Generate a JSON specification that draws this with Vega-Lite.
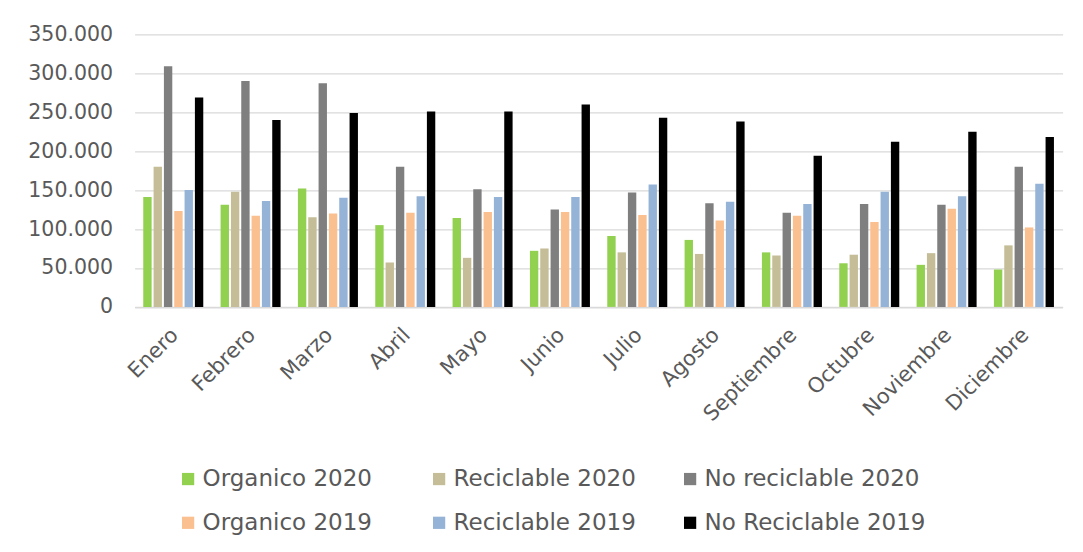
{
  "$schema": "https://vega.github.io/schema/vega-lite/v6.json",
  "autosize": "none",
  "width": 928,
  "height": 272.6,
  "padding": {"left": 134.6, "top": 34.3, "right": 20.4, "bottom": 245.1},
  "background": "white",
  "config": {
    "font": "DejaVu Sans",
    "view": {"stroke": null},
    "locale": {"number": {"decimal": ",", "thousands": ".", "grouping": [3], "currency": ["", " €"]}}
  },
  "data": {
    "values": [
      {"mes": "Enero", "serie": "Organico 2020", "valor": 141000},
      {"mes": "Enero", "serie": "Reciclable 2020", "valor": 180000},
      {"mes": "Enero", "serie": "No reciclable 2020", "valor": 309000},
      {"mes": "Enero", "serie": "Organico 2019", "valor": 123000},
      {"mes": "Enero", "serie": "Reciclable 2019", "valor": 150000},
      {"mes": "Enero", "serie": "No Reciclable 2019", "valor": 269000},
      {"mes": "Febrero", "serie": "Organico 2020", "valor": 131000},
      {"mes": "Febrero", "serie": "Reciclable 2020", "valor": 148000},
      {"mes": "Febrero", "serie": "No reciclable 2020", "valor": 290000},
      {"mes": "Febrero", "serie": "Organico 2019", "valor": 117000},
      {"mes": "Febrero", "serie": "Reciclable 2019", "valor": 136000},
      {"mes": "Febrero", "serie": "No Reciclable 2019", "valor": 240000},
      {"mes": "Marzo", "serie": "Organico 2020", "valor": 152000},
      {"mes": "Marzo", "serie": "Reciclable 2020", "valor": 115000},
      {"mes": "Marzo", "serie": "No reciclable 2020", "valor": 287000},
      {"mes": "Marzo", "serie": "Organico 2019", "valor": 120000},
      {"mes": "Marzo", "serie": "Reciclable 2019", "valor": 140000},
      {"mes": "Marzo", "serie": "No Reciclable 2019", "valor": 249000},
      {"mes": "Abril", "serie": "Organico 2020", "valor": 105000},
      {"mes": "Abril", "serie": "Reciclable 2020", "valor": 57000},
      {"mes": "Abril", "serie": "No reciclable 2020", "valor": 180000},
      {"mes": "Abril", "serie": "Organico 2019", "valor": 121000},
      {"mes": "Abril", "serie": "Reciclable 2019", "valor": 142000},
      {"mes": "Abril", "serie": "No Reciclable 2019", "valor": 251000},
      {"mes": "Mayo", "serie": "Organico 2020", "valor": 114000},
      {"mes": "Mayo", "serie": "Reciclable 2020", "valor": 63000},
      {"mes": "Mayo", "serie": "No reciclable 2020", "valor": 151000},
      {"mes": "Mayo", "serie": "Organico 2019", "valor": 122000},
      {"mes": "Mayo", "serie": "Reciclable 2019", "valor": 141000},
      {"mes": "Mayo", "serie": "No Reciclable 2019", "valor": 251000},
      {"mes": "Junio", "serie": "Organico 2020", "valor": 72000},
      {"mes": "Junio", "serie": "Reciclable 2020", "valor": 75000},
      {"mes": "Junio", "serie": "No reciclable 2020", "valor": 125000},
      {"mes": "Junio", "serie": "Organico 2019", "valor": 122000},
      {"mes": "Junio", "serie": "Reciclable 2019", "valor": 141000},
      {"mes": "Junio", "serie": "No Reciclable 2019", "valor": 260000},
      {"mes": "Julio", "serie": "Organico 2020", "valor": 91000},
      {"mes": "Julio", "serie": "Reciclable 2020", "valor": 70000},
      {"mes": "Julio", "serie": "No reciclable 2020", "valor": 147000},
      {"mes": "Julio", "serie": "Organico 2019", "valor": 118000},
      {"mes": "Julio", "serie": "Reciclable 2019", "valor": 157000},
      {"mes": "Julio", "serie": "No Reciclable 2019", "valor": 243000},
      {"mes": "Agosto", "serie": "Organico 2020", "valor": 86000},
      {"mes": "Agosto", "serie": "Reciclable 2020", "valor": 68000},
      {"mes": "Agosto", "serie": "No reciclable 2020", "valor": 133000},
      {"mes": "Agosto", "serie": "Organico 2019", "valor": 111000},
      {"mes": "Agosto", "serie": "Reciclable 2019", "valor": 135000},
      {"mes": "Agosto", "serie": "No Reciclable 2019", "valor": 238000},
      {"mes": "Septiembre", "serie": "Organico 2020", "valor": 70000},
      {"mes": "Septiembre", "serie": "Reciclable 2020", "valor": 66000},
      {"mes": "Septiembre", "serie": "No reciclable 2020", "valor": 121000},
      {"mes": "Septiembre", "serie": "Organico 2019", "valor": 117000},
      {"mes": "Septiembre", "serie": "Reciclable 2019", "valor": 132000},
      {"mes": "Septiembre", "serie": "No Reciclable 2019", "valor": 194000},
      {"mes": "Octubre", "serie": "Organico 2020", "valor": 56000},
      {"mes": "Octubre", "serie": "Reciclable 2020", "valor": 67000},
      {"mes": "Octubre", "serie": "No reciclable 2020", "valor": 132000},
      {"mes": "Octubre", "serie": "Organico 2019", "valor": 109000},
      {"mes": "Octubre", "serie": "Reciclable 2019", "valor": 148000},
      {"mes": "Octubre", "serie": "No Reciclable 2019", "valor": 212000},
      {"mes": "Noviembre", "serie": "Organico 2020", "valor": 54000},
      {"mes": "Noviembre", "serie": "Reciclable 2020", "valor": 69000},
      {"mes": "Noviembre", "serie": "No reciclable 2020", "valor": 131000},
      {"mes": "Noviembre", "serie": "Organico 2019", "valor": 126000},
      {"mes": "Noviembre", "serie": "Reciclable 2019", "valor": 142000},
      {"mes": "Noviembre", "serie": "No Reciclable 2019", "valor": 225000},
      {"mes": "Diciembre", "serie": "Organico 2020", "valor": 48000},
      {"mes": "Diciembre", "serie": "Reciclable 2020", "valor": 79000},
      {"mes": "Diciembre", "serie": "No reciclable 2020", "valor": 180000},
      {"mes": "Diciembre", "serie": "Organico 2019", "valor": 102000},
      {"mes": "Diciembre", "serie": "Reciclable 2019", "valor": 158000},
      {"mes": "Diciembre", "serie": "No Reciclable 2019", "valor": 218000}
    ]
  },
  "mark": {"type": "bar"},
  "encoding": {
    "x": {
      "field": "mes",
      "type": "nominal",
      "sort": ["Enero", "Febrero", "Marzo", "Abril", "Mayo", "Junio", "Julio", "Agosto", "Septiembre", "Octubre", "Noviembre", "Diciembre"],
      "scale": {"paddingInner": 0.224, "paddingOuter": 0.112},
      "axis": {
        "title": null,
        "ticks": false,
        "domainColor": "#d9d9d9",
        "domainWidth": 1.3,
        "labelAngle": -45,
        "labelAlign": "right",
        "labelBaseline": "top",
        "labelOffset": -6,
        "labelPadding": 17,
        "labelFont": "DejaVu Sans",
        "labelFontSize": 21,
        "labelColor": "#595959"
      }
    },
    "xOffset": {
      "field": "serie",
      "type": "nominal",
      "sort": ["Organico 2020", "Reciclable 2020", "No reciclable 2020", "Organico 2019", "Reciclable 2019", "No Reciclable 2019"],
      "scale": {"paddingInner": 0.19, "paddingOuter": 0}
    },
    "y": {
      "field": "valor",
      "type": "quantitative",
      "scale": {"domain": [0, 350000], "nice": false},
      "axis": {
        "title": null,
        "values": [0, 50000, 100000, 150000, 200000, 250000, 300000, 350000],
        "format": ",d",
        "ticks": false,
        "domain": false,
        "gridColor": "#d9d9d9",
        "gridWidth": 1.3,
        "labelPadding": 22,
        "labelFont": "DejaVu Sans",
        "labelFontSize": 20.5,
        "labelColor": "#595959"
      }
    },
    "color": {
      "field": "serie",
      "type": "nominal",
      "scale": {
        "domain": ["Organico 2020", "Reciclable 2020", "No reciclable 2020", "Organico 2019", "Reciclable 2019", "No Reciclable 2019"],
        "range": ["#92d050", "#c4bd97", "#7f7f7f", "#fac090", "#95b3d7", "#000000"]
      },
      "legend": {
        "title": null,
        "orient": "none",
        "direction": "horizontal",
        "columns": 3,
        "gridAlign": "all",
        "columnPadding": 4,
        "rowPadding": 20,
        "padding": 0,
        "legendX": 42,
        "legendY": 433,
        "symbolType": "square",
        "symbolSize": 150,
        "symbolStrokeWidth": 0,
        "labelOffset": 3,
        "labelLimit": 400,
        "labelFont": "DejaVu Sans",
        "labelFontSize": 23,
        "labelColor": "#595959"
      }
    }
  }
}
